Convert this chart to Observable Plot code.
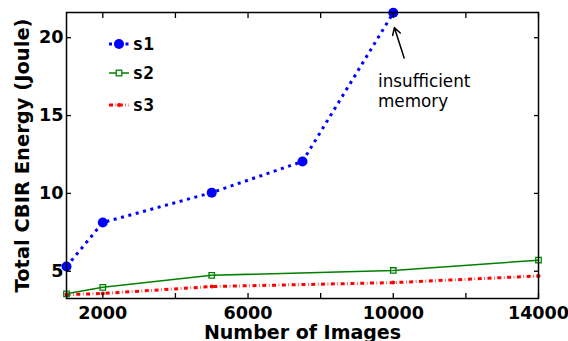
<!DOCTYPE html>
<html>
<head>
<meta charset="utf-8">
<script src="https://cdn.jsdelivr.net/npm/d3@7"></script>
<script src="https://cdn.jsdelivr.net/npm/@observablehq/plot@0.6"></script>
<style>
  html, body { margin: 0; padding: 0; background: #fff; }
  #wrap { position: relative; width: 568px; height: 341px; overflow: hidden; }
  #legend { position: absolute; left: 0; top: 0; }
</style>
</head>
<body>
<div id="wrap"></div>
<script>
// ---- data ----
const imagesS1 = [1000, 2000, 5000, 7500, 10000];
const energyS1 = [5.3, 8.13, 10.05, 12.05, 21.6];
const imagesS23 = [1000, 2000, 5000, 10000, 14000];
const energyS2 = [3.55, 3.97, 4.74, 5.05, 5.71];
const energyS3 = [3.5, 3.57, 4.02, 4.27, 4.7];
const seriesNames = ["s1", "s2", "s3"];
const xTicks = [2000, 4000, 6000, 8000, 10000, 12000, 14000];
const xTickLabels = [2000, 6000, 10000, 14000];
const yTicks = [5, 10, 15, 20];
const xTitle = "Number of Images";
const yTitle = "Total CBIR Energy (Joule)";
const noteText = "insufficient\nmemory";
const notePoint = [{x: 9580, y: 17.75}];
const noteArrow = [{x1: 10300, y1: 18.7, x2: 10030, y2: 20.65}];

const colors = {s1: "#0000ff", s2: "#008000", s3: "#ff0000"};

const s1 = imagesS1.map((x, i) => ({x, y: energyS1[i]}));
const s2 = imagesS23.map((x, i) => ({x, y: energyS2[i]}));
const s3 = imagesS23.map((x, i) => ({x, y: energyS3[i]}));

const chart = Plot.plot({
  width: 568,
  height: 341,
  marginLeft: 66,
  marginRight: 30,
  marginTop: 12,
  marginBottom: 43,
  style: {fontFamily: "DejaVu Sans", background: "white", color: "black", overflow: "visible"},
  x: {domain: [1000, 14000]},
  y: {domain: [3.25, 21.62]},
  marks: [
    // lines
    Plot.line(s3, {x: "x", y: "y", stroke: colors.s3, strokeWidth: 3, strokeLinecap: "butt", strokeDasharray: "4,2.6,0.6,2.6"}),
    Plot.line(s2, {x: "x", y: "y", stroke: colors.s2, strokeWidth: 1.5}),
    Plot.line(s1, {x: "x", y: "y", stroke: colors.s1, strokeWidth: 3, strokeLinecap: "butt", strokeDasharray: "3,4.6"}),
    Plot.dot(s3, {x: "x", y: "y", r: 2, fill: colors.s3}),
    Plot.dot(s2, {x: "x", y: "y", symbol: "square", r: 3.1, stroke: colors.s2, strokeWidth: 1.3, fill: "none"}),
    Plot.dot(s1, {x: "x", y: "y", r: 5, fill: colors.s1}),
    // frame and inward ticks
    Plot.frame({stroke: "black", strokeWidth: 1.5}),
    Plot.axisX(xTicks, {anchor: "bottom", tickSize: -5, strokeWidth: 1.3, tickFormat: () => "", label: null}),
    Plot.axisX(xTicks, {anchor: "top", tickSize: -5, strokeWidth: 1.3, tickFormat: () => "", label: null}),
    Plot.axisY(yTicks, {anchor: "left", tickSize: -5, strokeWidth: 1.3, tickFormat: () => "", label: null}),
    Plot.axisY(yTicks, {anchor: "right", tickSize: -5, strokeWidth: 1.3, tickFormat: () => "", label: null}),
    // tick labels
    Plot.axisX(xTickLabels, {anchor: "bottom", tickSize: 0, tickPadding: 8, fontSize: 17.6, fontWeight: "bold", tickFormat: "d", label: null}),
    Plot.axisY(yTicks, {anchor: "left", tickSize: 0, tickPadding: 3, fontSize: 17.6, fontWeight: "bold", tickFormat: "d", label: null}),
    // axis titles
    Plot.text([xTitle], {frameAnchor: "bottom", textAnchor: "middle", dy: 40, fontSize: 19, fontWeight: "bold", fill: "black"}),
    Plot.text([yTitle], {frameAnchor: "left", textAnchor: "middle", dx: -44, rotate: -90, fontSize: 19.5, fontWeight: "bold", fill: "black"}),
    // annotation
    Plot.arrow(noteArrow, {x1: "x1", y1: "y1", x2: "x2", y2: "y2", stroke: "black", strokeWidth: 1.5, headLength: 8}),
    Plot.text(notePoint, {x: "x", y: "y", text: () => noteText, textAnchor: "start", lineAnchor: "top", fontSize: 16.8, lineHeight: 1.19, fill: "black"})
  ]
});

const wrap = document.getElementById("wrap");
wrap.appendChild(chart);

// ---- legend (overlay) ----
const legendY = [44, 73, 105];
const lg = d3.select(wrap).append("svg")
  .attr("id", "legend").attr("width", 568).attr("height", 341);
seriesNames.forEach((name, i) => {
  const g = lg.append("g").attr("transform", `translate(0,${legendY[i]})`);
  const c = colors[name];
  if (name === "s1") {
    g.append("line").attr("x1", 109).attr("x2", 129).attr("stroke", c).attr("stroke-width", 3).attr("stroke-dasharray", "3,2.5");
    g.append("circle").attr("cx", 119).attr("r", 5).attr("fill", c);
  } else if (name === "s2") {
    g.append("line").attr("x1", 109).attr("x2", 129).attr("stroke", c).attr("stroke-width", 1.5);
    g.append("rect").attr("x", 116.2).attr("y", -2.8).attr("width", 5.6).attr("height", 5.6).attr("fill", "white").attr("stroke", c).attr("stroke-width", 1.3);
  } else {
    g.append("line").attr("x1", 109).attr("x2", 129).attr("stroke", c).attr("stroke-width", 3).attr("stroke-dasharray", "4,2.6,0.6,2.6");
    g.append("circle").attr("cx", 119).attr("r", 2).attr("fill", c);
  }
  g.append("text").attr("x", 132.5).attr("dy", "0.36em")
    .attr("font-family", "DejaVu Sans Mono").attr("font-weight", "bold").attr("font-size", 18)
    .attr("fill", "black").text(name);
});
</script>
</body>
</html>
